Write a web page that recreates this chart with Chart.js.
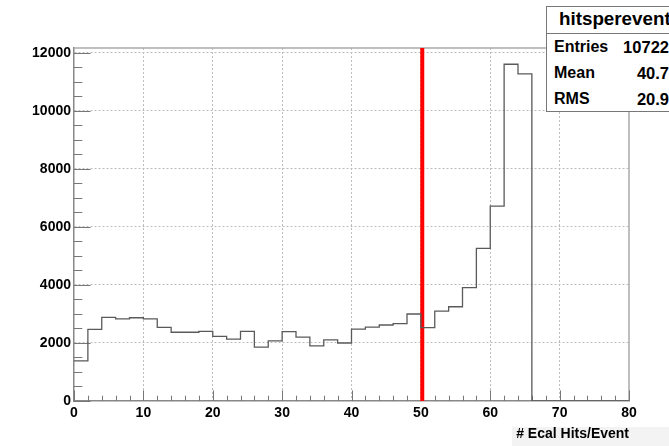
<!DOCTYPE html>
<html>
<head>
<meta charset="utf-8">
<script src="https://cdn.jsdelivr.net/npm/chart.js@4.4.1/dist/chart.umd.min.js"></script>
<style>
  html, body { margin: 0; padding: 0; overflow: hidden; background: #fff; }
  #wrap { position: relative; width: 669px; height: 446px; overflow: hidden; }
  #titleBg { position: absolute; left: 512px; top: 427px; width: 157px; height: 19px; background: #f3f3f3; }
  #myChart { position: absolute; left: 0; top: 0; }
  #stats { position: absolute; left: 546px; top: 6px; width: 140px; height: 104px; border: 1px solid #777; background: #fff;
           font-family: "Liberation Sans", Arial, sans-serif; font-weight: bold; color: #000; }
  #stats .head { position: absolute; left: 0; top: 0; width: 100%; height: 26px; border-bottom: 1px solid #777; }
  #stats .head span { position: absolute; left: 12px; top: 1px; font-size: 18.8px; white-space: nowrap; }
  #stats .lbl { position: absolute; left: 7px; font-size: 16px; }
  #stats .val { position: absolute; right: 18px; font-size: 16.5px; text-align: right; }
</style>
</head>
<body>
<div id="wrap">
  <div id="titleBg"></div>
  <canvas id="myChart" width="669" height="446"></canvas>
  <div id="stats">
    <div class="head"><span id="statTitle"></span></div>
  </div>
</div>
<script>
// histogram bins (lower edge) and contents
const binLow = [0, 2, 4, 6, 8, 10, 12, 14, 16, 18, 20, 22, 24, 26, 28, 30, 32,
                34, 36, 38, 40, 42, 44, 46, 48, 50, 52, 54, 56, 58, 60, 62, 64];
const counts = [1380, 2470, 2880, 2830, 2870, 2830, 2540, 2370, 2370, 2400, 2230, 2130, 2400, 1860, 2070, 2390, 2200,
                1900, 2110, 2000, 2480, 2550, 2620, 2670, 3000, 2530, 3100, 3250, 3910, 5260, 6720, 11610, 11280];
const lastEdge = 66;
const cutValue = 50.2;

const xMin = 0, xMax = 80;
const yMin = 0, yMax = 12170;
const xTicks = [0, 10, 20, 30, 40, 50, 60, 70, 80];
const yTicks = [0, 2000, 4000, 6000, 8000, 10000, 12000];

const statsTitle = 'hitsperevent';
const statsLabels = ['Entries', 'Mean', 'RMS'];
const statsValues = ['10722', '40.7', '20.9'];

// stats box text
document.getElementById('statTitle').textContent = statsTitle;
const statsBox = document.getElementById('stats');
statsLabels.forEach((lbl, i) => {
  const top = 31 + i * 26;
  const l = document.createElement('span');
  l.className = 'lbl';
  l.style.top = top + 'px';
  l.textContent = lbl;
  const v = document.createElement('span');
  v.className = 'val';
  v.style.top = top + 'px';
  v.textContent = statsValues[i];
  statsBox.appendChild(l);
  statsBox.appendChild(v);
});

const histPoints = binLow.map((x, i) => ({x: x, y: counts[i]}));
histPoints.push({x: lastEdge, y: 0});
histPoints.push({x: xMax, y: 0});

// ROOT style inward ticks + frame
const rootFrame = {
  id: 'rootFrame',
  beforeDatasetsDraw(chart) {
    const {ctx, chartArea: a, scales: {x, y}} = chart;
    ctx.save();
    ctx.strokeStyle = '#aaa';
    ctx.lineWidth = 1.5;
    ctx.beginPath();
    ctx.moveTo(a.left, a.top);
    ctx.lineTo(a.right, a.top);
    ctx.lineTo(a.right, a.bottom);
    ctx.stroke();

    ctx.strokeStyle = '#777';
    ctx.lineWidth = 1;
    ctx.beginPath();
    for (let v = 0; v <= 12000; v += 500) {
      const py = Math.round(y.getPixelForValue(v)) + 0.5;
      const len = v % 2000 === 0 ? 16.6 : 8.3;
      ctx.moveTo(a.left, py);
      ctx.lineTo(a.left + len, py);
    }
    for (let v = 0; v <= 80; v += 2) {
      const px = Math.round(x.getPixelForValue(v)) + 0.5;
      const len = v % 10 === 0 ? 10.6 : 5.3;
      ctx.moveTo(px, a.bottom);
      ctx.lineTo(px, a.bottom - len);
    }
    ctx.stroke();
    ctx.restore();
  }
};

const tickFont = {family: '"Liberation Sans", Arial, sans-serif', size: 14, weight: 'bold'};
const gridColor = '#bdbdbd';

const ctx = document.getElementById('myChart').getContext('2d');
new Chart(ctx, {
  type: 'line',
  data: {
    datasets: [{
      data: histPoints,
      stepped: 'before',
      borderColor: '#5a5a5a',
      borderWidth: 1.3,
      pointRadius: 0,
      fill: false
    }, {
      data: [{x: cutValue, y: yMin}, {x: cutValue, y: yMax}],
      borderColor: '#ff0000',
      borderWidth: 4,
      pointRadius: 0,
      fill: false
    }]
  },
  options: {
    responsive: false,
    animation: false,
    devicePixelRatio: 1,
    layout: {padding: {top: 48, right: 40, left: 0, bottom: 0}},
    plugins: {legend: {display: false}, tooltip: {enabled: false}},
    scales: {
      x: {
        type: 'linear',
        min: xMin,
        max: xMax,
        afterFit(scale) { scale.height = 45; },
        afterBuildTicks(scale) { scale.ticks = xTicks.map(v => ({value: v})); },
        ticks: {padding: 4, color: '#000', font: tickFont, maxRotation: 0, callback: v => String(v)},
        grid: {
          drawTicks: false,
          color: c => (c.tick && (c.tick.value === xMin || c.tick.value === xMax)) ? 'rgba(0,0,0,0)' : gridColor,
          lineWidth: 1
        },
        border: {display: true, color: '#888', width: 1.5, dash: [2, 2]},
        title: {
          display: true,
          text: '# Ecal Hits/Event',
          align: 'end',
          color: '#000',
          font: {family: '"Liberation Sans", Arial, sans-serif', size: 14, weight: 'bold'},
          padding: {top: 0, bottom: 3}
        }
      },
      y: {
        min: yMin,
        max: yMax,
        afterFit(scale) { scale.width = 74; },
        afterBuildTicks(scale) { scale.ticks = yTicks.map(v => ({value: v})); },
        ticks: {padding: 3, color: '#000', font: tickFont, callback: v => String(v)},
        grid: {
          drawTicks: false,
          color: c => (c.tick && c.tick.value === yMin) ? 'rgba(0,0,0,0)' : gridColor,
          lineWidth: 1
        },
        border: {display: true, color: '#888', width: 1.5, dash: [2, 2]}
      }
    }
  },
  plugins: [rootFrame]
});
</script>
</body>
</html>
